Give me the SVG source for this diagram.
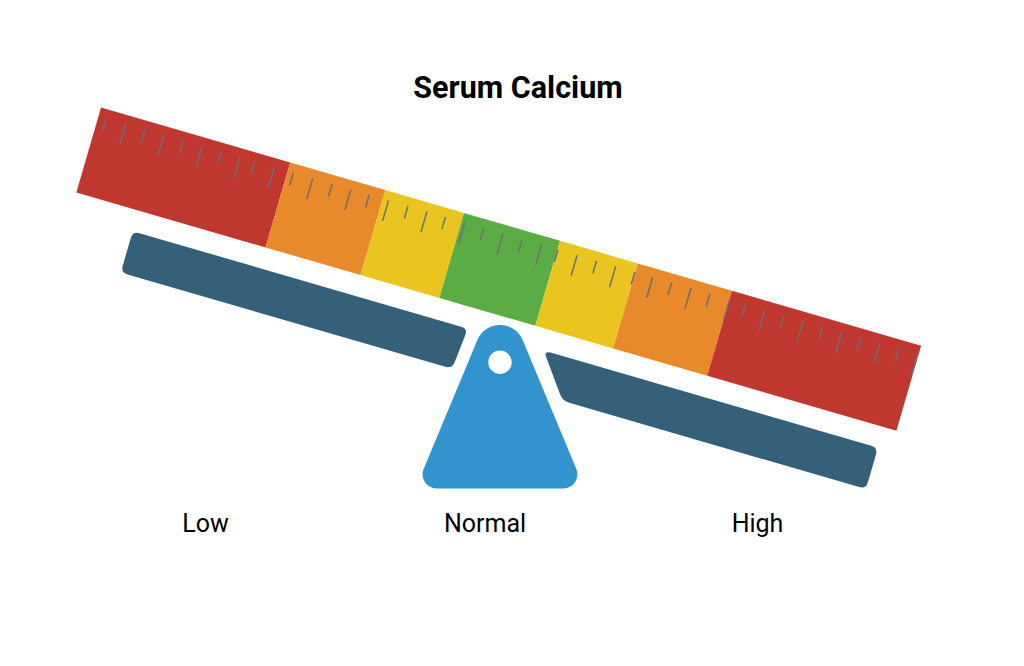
<svg xmlns="http://www.w3.org/2000/svg" width="1024" height="666" viewBox="0 0 1024 666">
<style>
.t{font-family:Roboto,"Liberation Sans",Arial,sans-serif;fill:#000;text-anchor:middle}
.title{font-size:30.5px;font-weight:bold}
.lbl{font-size:25px}
.tick{stroke:#6e6e72;stroke-width:1.5;fill:none;stroke-linecap:butt}
.plank{fill:#346079}
</style>
<rect width="1024" height="666" fill="#fff"/>
<g id="title"><text class="t title" x="518" y="98">Serum Calcium</text></g>
<g id="scale" transform="rotate(16.2)">
  <g id="ruler">
    <rect x="127" y="75" width="197" height="88.5" fill="#C0372F"/>
    <rect x="324" y="75" width="99" height="88.5" fill="#E8892B"/>
    <rect x="423" y="75" width="82" height="88.5" fill="#EAC51F"/>
    <rect x="505" y="75" width="100" height="88.5" fill="#5BAC45"/>
    <rect x="605" y="75" width="81" height="88.5" fill="#EAC51F"/>
    <rect x="686" y="75" width="98" height="88.5" fill="#E8892B"/>
    <rect x="784" y="75" width="197" height="88.5" fill="#C0372F"/>
    <path class="tick" d="M134.9 84V97M175.3 84V97M214.9 84V97M254.4 84V97M289.8 84V97M329.9 84V97M370.2 84V97M408.9 84V97M449.2 84V97M488.3 84V97M528.3 84V97M568.1 84V97M605.5 84V97M645.6 84V97M685.5 84V97M723.8 84V97M763.7 84V97M800.8 84V97M840.7 84V97M880.7 84V97M920.5 84V97M960.4 84V97"/>
    <path class="tick" d="M155.4 84V105.5M195 84V105.5M235 84V105.5M274.3 84V105.5M310.1 84V105.5M350.1 84V105.5M389.7 84V105.5M429 84V105.5M469 84V105.5M508.4 84V105.5M548.3 84V105.5M588.3 84V105.5M625.4 84V105.5M665.5 84V105.5M704.1 84V105.5M743.9 84V105.5M784.3 84V105.5M821 84V105.5M860.7 84V105.5M900.9 84V105.5M940.7 84V105.5M980 84V105.5"/>
  </g>
  <g id="plank-left"><path class="plank" d="M199 185L534 185Q541 185 540.35 191.97L537.65 221.03Q537 228 530 228L199 228Q192 228 192 221L192 192Q192 185 199 185Z"/></g>
  <g id="plank-right"><path class="plank" d="M627 185L961 185Q968 185 968 192L968 221Q968 228 961 228L659 228Q652 228 647.82 222.39L624.18 190.61Q620 185 627 185Z"/></g>
</g>
<g id="fulcrum">
  <path fill="#3194CE" d="M477.38 340.08A24.5 24.5 0 0 1 522.62 340.08L576.33 469.11A14 14 0 0 1 563.4 488.5L436.6 488.5A14 14 0 0 1 423.67 469.11Z"/>
  <circle cx="500" cy="362.3" r="11.7" fill="#fff"/>
</g>
<g id="labels">
  <text class="t lbl" x="205.5" y="531.5">Low</text>
  <text class="t lbl" x="485" y="531.5">Normal</text>
  <text class="t lbl" x="757.5" y="531.5">High</text>
</g>
</svg>
